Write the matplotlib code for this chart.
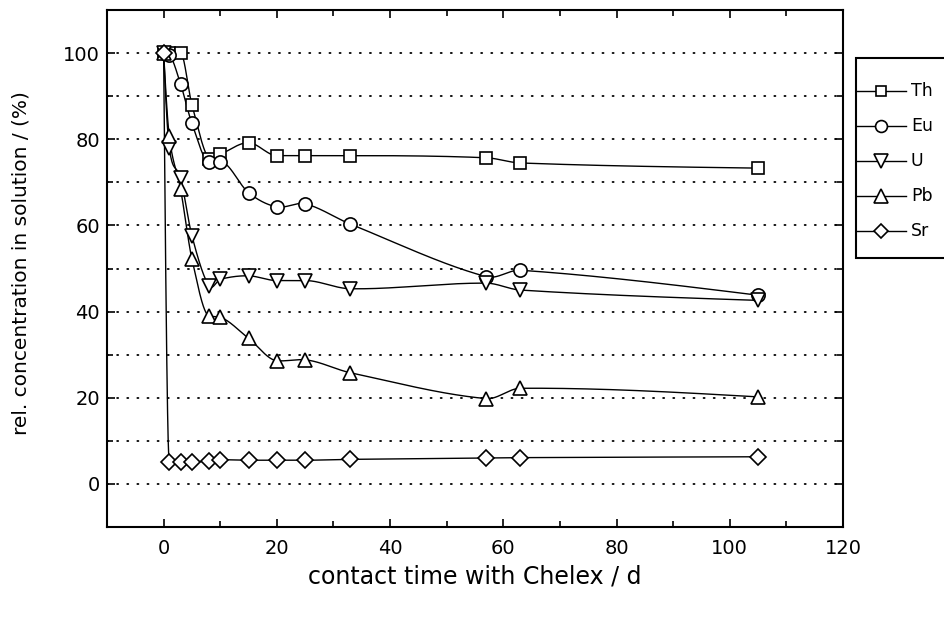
import numpy as np
import matplotlib
matplotlib.use("Agg")
import matplotlib.pyplot as plt
from matplotlib.ticker import MultipleLocator
from matplotlib.lines import Line2D
from matplotlib.patches import Rectangle

plt.rcParams["font.family"] = ["DejaVu Sans"]

# contact time (days) for each series
t_th = [0, 1, 3, 5, 8, 10, 15, 20, 25, 33, 57, 63, 105]
th = [100, 100, 100, 88, 75.5, 76.5, 79.2, 76.2, 76.2, 76.2, 75.7, 74.5, 73.3]

t_eu = [0, 1, 3, 5, 8, 10, 15, 20, 25, 33, 57, 63, 105]
eu = [100, 99.6, 92.8, 83.7, 74.8, 74.8, 67.6, 64.3, 65.0, 60.3, 48.1, 49.6, 43.8]

t_u = [0, 1, 3, 5, 8, 10, 15, 20, 25, 33, 57, 63, 105]
u = [100, 78.0, 71.0, 57.6, 46.0, 47.5, 48.3, 47.2, 47.2, 45.3, 46.6, 45.0, 42.6]

t_pb = [0, 1, 3, 5, 8, 10, 15, 20, 25, 33, 57, 63, 105]
pb = [100, 80.7, 68.4, 52.2, 39.0, 38.7, 33.8, 28.6, 28.8, 25.8, 19.8, 22.2, 20.2]

t_sr = [0, 1, 3, 5, 8, 10, 15, 20, 25, 33, 57, 63, 105]
sr = [100, 5.1, 5.1, 5.1, 5.3, 5.6, 5.5, 5.5, 5.5, 5.7, 6.0, 6.1, 6.3]

labels = ["Th", "Eu", "U", "Pb", "Sr"]
markers = ["s", "o", "v", "^", "D"]
msizes = [8.5, 9.5, 10.5, 10.5, 8.0]


def smooth_curve(x, y, xs):
    """Cubic Hermite curve with chord slopes, limited to avoid overshoot."""
    x = np.asarray(x, float)
    y = np.asarray(y, float)
    h = np.diff(x)
    d = np.diff(y) / h
    n = len(x)
    m = np.zeros(n)
    for k in range(1, n - 1):
        chord = (y[k + 1] - y[k - 1]) / (x[k + 1] - x[k - 1])
        lim = 3 * min(abs(d[k - 1]), abs(d[k]))
        m[k] = np.clip(chord, -lim, lim)

    # natural-type end slopes, kept on the side of the end secant
    def end(dk, m_in):
        s = (3 * dk - m_in) / 2
        if np.sign(s) != np.sign(dk):
            s = 0.0
        return float(np.clip(s, -3 * abs(dk), 3 * abs(dk)))

    m[0] = end(d[0], m[1])
    m[-1] = end(d[-1], m[-2])
    idx = np.clip(np.searchsorted(x, xs) - 1, 0, n - 2)
    hk = h[idx]
    s = (xs - x[idx]) / hk
    h00 = 2 * s**3 - 3 * s**2 + 1
    h10 = s**3 - 2 * s**2 + s
    h01 = -2 * s**3 + 3 * s**2
    h11 = s**3 - s**2
    return h00 * y[idx] + h10 * hk * m[idx] + h01 * y[idx + 1] + h11 * hk * m[idx + 1]


W, H = 945, 617
fig = plt.figure(figsize=(W / 100, H / 100), dpi=100)
ax = fig.add_axes([107 / W, 1 - 527 / H, (843 - 107) / W, (527 - 10) / H])

series = [(t_th, th), (t_eu, eu), (t_u, u), (t_pb, pb), (t_sr, sr)]
for (tx, vy), mk, ms in zip(series, markers, msizes):
    xs = np.linspace(tx[0], tx[-1], 3000)
    ax.plot(xs, smooth_curve(tx, vy, xs), color="black", lw=1.0, zorder=3)
    ax.plot(tx, vy, linestyle="none", marker=mk, ms=ms, mfc="white",
            mec="black", mew=1.2, zorder=4)

ax.set_xlim(-10, 120)
ax.set_ylim(-10, 110)
ax.xaxis.set_major_locator(MultipleLocator(20))
ax.xaxis.set_minor_locator(MultipleLocator(10))
ax.yaxis.set_minor_locator(MultipleLocator(10))
ax.set_yticks([0, 20, 40, 60, 80, 100])
ax.tick_params(which="both", direction="in", top=True, right=True,
               width=1.2, labelsize=14)
ax.tick_params(which="major", length=6)
ax.tick_params(which="minor", length=4)
ax.tick_params(axis="x", which="major", pad=9)
ax.tick_params(axis="y", which="major", pad=5)
for sp in ax.spines.values():
    sp.set_linewidth(1.5)

for yv in range(0, 101, 10):
    ax.axhline(yv, color="black", lw=1.3, dashes=(0.6, 5.0),
               dash_capstyle="round", zorder=1)

ax.set_xlabel("contact time with Chelex / d", fontsize=17)
ax.xaxis.set_label_coords(0.5, (527 - 565) / 517)
ax.set_ylabel("rel. concentration in solution / (%)", fontsize=14.5)
ax.yaxis.set_label_coords((31 - 107) / 736, 0.51)

# legend box, partly running past the right edge of the figure
def fx(px):
    return px / W


def fy(py):
    return 1 - py / H


fig.add_artist(Rectangle((fx(856), fy(258)), fx(130), fy(58) - fy(258),
                         transform=fig.transFigure, facecolor="white",
                         edgecolor="black", lw=1.5, clip_on=False))
entry_y = [91, 126, 161, 196, 231]
for lab, mk, ms, ey in zip(labels, markers, msizes, entry_y):
    fig.add_artist(Line2D([fx(856), fx(906)], [fy(ey), fy(ey)],
                          transform=fig.transFigure, color="black", lw=1.0))
    fig.add_artist(Line2D([fx(881)], [fy(ey)], transform=fig.transFigure,
                          marker=mk, ms=ms * 0.9, mfc="white", mec="black",
                          mew=1.2, linestyle="none"))
    fig.text(fx(911), fy(ey), lab, fontsize=12.5, va="center", ha="left")

fig.savefig("out.png", dpi=100)
